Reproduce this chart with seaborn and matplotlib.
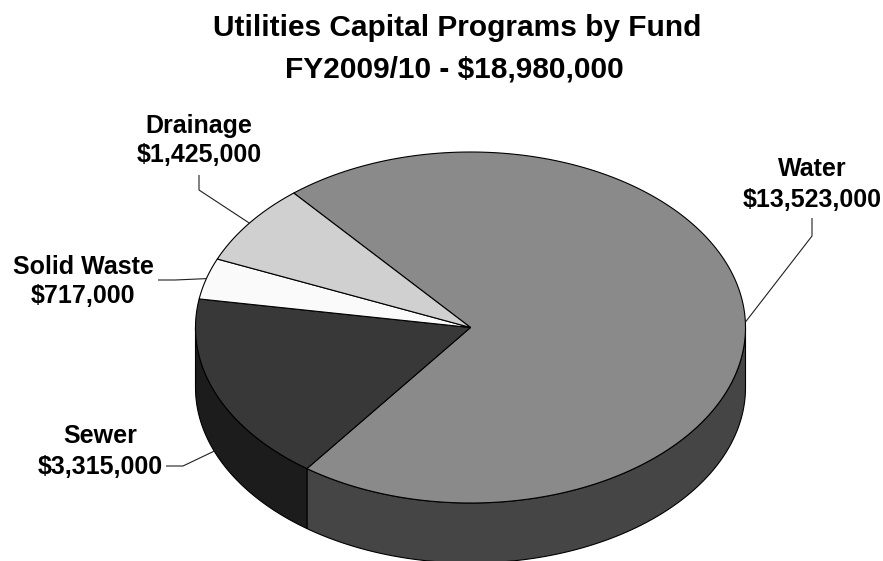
import numpy as np
import matplotlib
matplotlib.use("Agg")
import matplotlib.pyplot as plt
from matplotlib.patches import Polygon
import seaborn as sns

# ---- data ----
categories = ["Water", "Sewer", "Solid Waste", "Drainage"]
values = [13523000, 3315000, 717000, 1425000]
value_labels = ["$13,523,000", "$3,315,000", "$717,000", "$1,425,000"]
top_colors = ["#8a8a8a", "#383838", "#fafafa", "#d0d0d0"]
side_colors = ["#454545", "#1c1c1c", "#cfcfcf", "#a8a8a8"]
title_lines = ["Utilities Capital Programs by Fund", "FY2009/10 - $18,980,000"]

sns.set_theme(style="white")
plt.rcParams['font.family'] = ['Liberation Sans', 'DejaVu Sans']

fig = plt.figure(figsize=(8.83, 5.61), dpi=100)
ax = fig.add_axes([0, 0, 1, 1])
ax.set_xlim(0, 883)
ax.set_ylim(561, 0)
ax.axis('off')

# ---- geometry of the tilted pie ----
cx, cy, rx, ry, depth = 470.5, 327.5, 275.0, 175.5, 60.0
start = 130.0
total = float(sum(values))
spans = [v / total * 360.0 for v in values]
bounds = []
a = start
for s in spans:
    bounds.append((a, a - s))
    a -= s


def pts(t0, t1, dz=0.0, n=200):
    t = np.radians(np.linspace(t0, t1, n))
    return np.column_stack([cx + rx * np.cos(t), cy - ry * np.sin(t) + dz])


edge_kw = dict(edgecolor="black", linewidth=0.8, joinstyle="round")

# side walls (front half only)
for (a0, a1), sc in zip(bounds, side_colors):
    for k in range(-2, 3):
        lo = max(a1, 180 + 360 * k)
        hi = min(a0, 360 + 360 * k)
        if hi > lo:
            top = pts(lo, hi)
            bot = pts(hi, lo, dz=depth)
            ax.add_patch(Polygon(np.vstack([top, bot]), closed=True,
                                 facecolor=sc, zorder=1, **edge_kw))

# top faces
for (a0, a1), tc in zip(bounds, top_colors):
    arc = pts(a0, a1)
    poly = np.vstack([[cx, cy], arc])
    ax.add_patch(Polygon(poly, closed=True, facecolor=tc, zorder=2, **edge_kw))

# ---- title ----
ax.text(457, 36, title_lines[0], ha="center", va="baseline",
        fontsize=21.5, fontweight="bold", color="black")
ax.text(454, 77, title_lines[1], ha="center", va="baseline",
        fontsize=21.5, fontweight="bold", color="black")

# ---- labels with leader lines ----
label_pos = {  # x centre, baseline of line 1, baseline of line 2
    "Water": (812, 176, 207),
    "Sewer": (100, 443, 474),
    "Solid Waste": (83, 274, 303),
    "Drainage": (199, 133, 162),
}
leader_pts = {
    "Water": [(812, 218), (812, 236)],
    "Sewer": [(166, 466), (183, 466)],
    "Solid Waste": [(158, 280), (175, 280)],
    "Drainage": [(199, 175), (199, 190)],
}
for name, vl, (a0, a1) in zip(categories, value_labels, bounds):
    x, b1, b2 = label_pos[name]
    ax.text(x, b1, name, ha="center", va="baseline", fontsize=18,
            fontweight="bold", color="black", zorder=5)
    ax.text(x, b2, vl, ha="center", va="baseline", fontsize=18,
            fontweight="bold", color="black", zorder=5)
    m = (a0 + a1) / 2.0
    tr = np.radians(m)
    ex = cx + rx * np.cos(tr)
    ey = cy - ry * np.sin(tr) + (depth * 0.95 if np.sin(tr) < 0 else 0)
    p = leader_pts[name] + [(ex, ey)]
    ax.plot([q[0] for q in p], [q[1] for q in p], color="#202020",
            linewidth=0.8, zorder=4, solid_capstyle="butt")

fig.savefig("out.png", dpi=100, facecolor="white")
